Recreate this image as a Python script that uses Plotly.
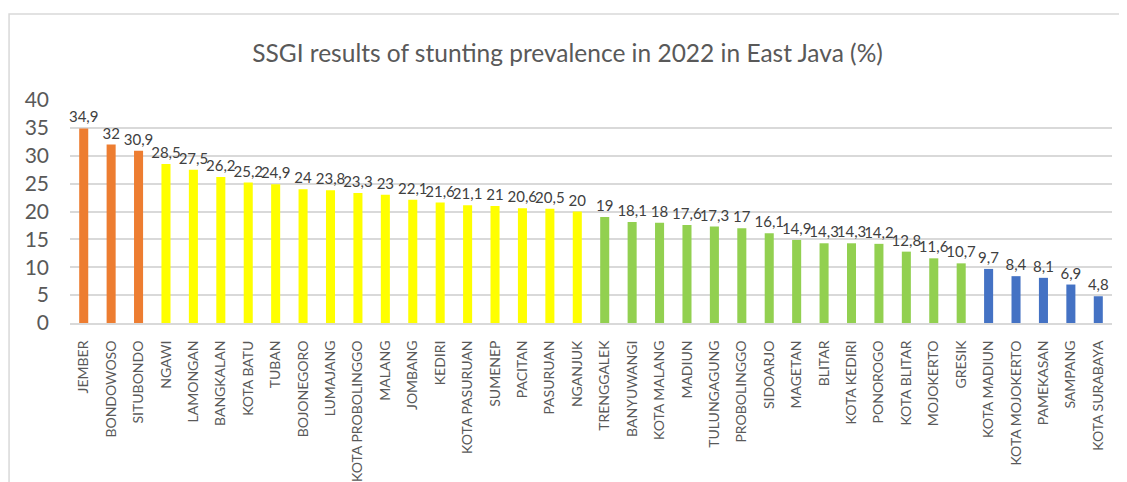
import plotly.graph_objects as go

regions = ["JEMBER", "BONDOWOSO", "SITUBONDO", "NGAWI", "LAMONGAN", "BANGKALAN", "KOTA BATU",
           "TUBAN", "BOJONEGORO", "LUMAJANG", "KOTA PROBOLINGGO", "MALANG", "JOMBANG", "KEDIRI",
           "KOTA PASURUAN", "SUMENEP", "PACITAN", "PASURUAN", "NGANJUK", "TRENGGALEK",
           "BANYUWANGI", "KOTA MALANG", "MADIUN", "TULUNGAGUNG", "PROBOLINGGO", "SIDOARJO",
           "MAGETAN", "BLITAR", "KOTA KEDIRI", "PONOROGO", "KOTA BLITAR", "MOJOKERTO", "GRESIK",
           "KOTA MADIUN", "KOTA MOJOKERTO", "PAMEKASAN", "SAMPANG", "KOTA SURABAYA"]
prevalence = [34.9, 32, 30.9, 28.5, 27.5, 26.2, 25.2, 24.9, 24, 23.8, 23.3, 23, 22.1, 21.6,
              21.1, 21, 20.6, 20.5, 20, 19, 18.1, 18, 17.6, 17.3, 17, 16.1, 14.9, 14.3, 14.3,
              14.2, 12.8, 11.6, 10.7, 9.7, 8.4, 8.1, 6.9, 4.8]
groups = ["very high"] * 3 + ["high"] * 16 + ["medium"] * 14 + ["low"] * 5
group_colors = {"very high": "#ED7D31", "high": "#FFFF00", "medium": "#92D050", "low": "#4472C4"}
y_ticks = [0, 5, 10, 15, 20, 25, 30, 35, 40]

labels = [("%g" % v).replace(".", ",") for v in prevalence]
colors = [group_colors[g] for g in groups]

fig = go.Figure(go.Bar(
    x=regions, y=prevalence, marker=dict(color=colors, line=dict(width=0)),
    text=labels, textposition="outside", constraintext="none", cliponaxis=False,
    textfont=dict(size=15, color="#404040", family="Lato"),
    width=0.33,
))

fig.update_layout(
    width=1119, height=474,
    margin=dict(l=62, r=15, t=92, b=159, autoexpand=False),
    paper_bgcolor="white", plot_bgcolor="white",
    font=dict(family="Lato", color="#595959"),
    title=dict(text="SSGI results of stunting prevalence in 2022 in East Java (%)",
               x=0.5, xanchor="center", y=0.905, yanchor="middle",
               font=dict(size=24.5, color="#595959", family="Lato")),
    showlegend=False,
    bargap=0.67,
)
fig.update_yaxes(range=[0, 40], tickvals=y_ticks, showgrid=True, gridcolor="#D9D9D9",
                 gridwidth=1.5, zeroline=False, showline=False, automargin=False,
                 tickfont=dict(size=21, color="#595959"), ticklen=0, ticklabelstandoff=20)
fig.update_xaxes(tickangle=-90, tickfont=dict(size=14, color="#595959"), showline=True,
                 linecolor="#D9D9D9", linewidth=2, ticks="", ticklabelstandoff=10,
                 automargin=False)

fig.add_shape(type="rect", xref="paper", yref="paper", x0=-0.0585, x1=1.05, y0=-0.9, y1=1.386,
              line=dict(color="#D9D9D9", width=1.5), fillcolor="rgba(0,0,0,0)", layer="below")

fig.write_html("out.html")
